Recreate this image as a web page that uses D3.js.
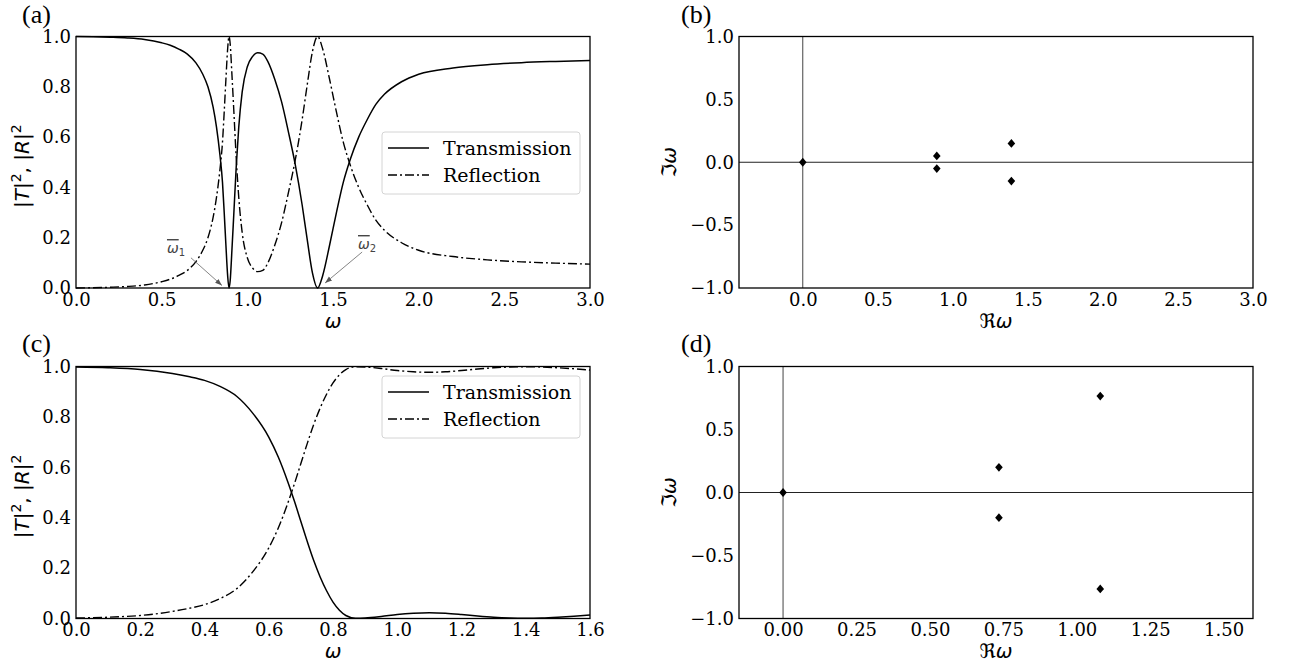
<!DOCTYPE html>
<html>
<head>
<meta charset="utf-8">
<script src="https://cdn.jsdelivr.net/npm/d3@7"></script>
<style>
  body { margin: 0; background: #fff; }
  svg { display: block; }
</style>
</head>
<body>
<div id="fig"></div>
<script>
/* Panel (a): transmission / reflection vs omega */
var omegaA = [0, 0.1, 0.2, 0.3, 0.4, 0.5, 0.55, 0.6, 0.65, 0.7, 0.74, 0.77, 0.8, 0.82, 0.84,
  0.855, 0.865, 0.875, 0.885, 0.893, 0.9, 0.91, 0.92, 0.935, 0.95, 0.97, 1.0, 1.03, 1.06, 1.09,
  1.12, 1.16, 1.2, 1.24, 1.28, 1.32, 1.35, 1.38, 1.41, 1.44, 1.48, 1.52, 1.56, 1.6, 1.65,
  1.7, 1.75, 1.8, 1.9, 2.0, 2.2, 2.4, 2.6, 2.8, 3.0];
var transA = [1.000, 0.999, 0.997, 0.994, 0.988, 0.975, 0.965, 0.950, 0.930, 0.895, 0.850, 0.800, 0.720, 0.640, 0.530,
  0.420, 0.300, 0.170, 0.050, 0.000, 0.030, 0.150, 0.280, 0.480, 0.640, 0.780, 0.880, 0.920, 0.935, 0.930,
  0.900, 0.830, 0.740, 0.620, 0.490, 0.330, 0.190, 0.060, 0.000, 0.050, 0.170, 0.300, 0.420, 0.510, 0.600,
  0.670, 0.730, 0.770, 0.820, 0.850, 0.875, 0.888, 0.896, 0.901, 0.905];
var reflA = [0.000, 0.001, 0.003, 0.006, 0.012, 0.025, 0.035, 0.050, 0.070, 0.105, 0.150, 0.200, 0.280, 0.360, 0.470,
  0.580, 0.700, 0.830, 0.950, 1.000, 0.970, 0.850, 0.720, 0.520, 0.360, 0.220, 0.120, 0.080, 0.065, 0.070,
  0.100, 0.170, 0.260, 0.380, 0.510, 0.670, 0.810, 0.940, 1.000, 0.950, 0.830, 0.700, 0.580, 0.490, 0.400,
  0.330, 0.270, 0.230, 0.180, 0.150, 0.125, 0.112, 0.104, 0.099, 0.095];

/* Panel (c) */
var omegaC = [0, 0.1, 0.2, 0.3, 0.35, 0.4, 0.45, 0.5, 0.55, 0.6, 0.63, 0.66, 0.68, 0.7, 0.72,
  0.74, 0.76, 0.78, 0.8, 0.82, 0.84, 0.87, 0.9, 0.95, 1.0, 1.05, 1.1, 1.15, 1.2, 1.25,
  1.3, 1.35, 1.4, 1.45, 1.5, 1.55, 1.6];
var transC = [0.998, 0.995, 0.988, 0.972, 0.960, 0.945, 0.920, 0.882, 0.815, 0.720, 0.640, 0.540, 0.465, 0.385, 0.305,
  0.230, 0.165, 0.110, 0.065, 0.033, 0.012, 0.001, 0.002, 0.008, 0.016, 0.021, 0.023, 0.021, 0.016, 0.010,
  0.005, 0.002, 0.001, 0.002, 0.005, 0.009, 0.014];
var reflC = [0.002, 0.005, 0.012, 0.028, 0.040, 0.055, 0.080, 0.118, 0.185, 0.280, 0.360, 0.460, 0.535, 0.615, 0.695,
  0.770, 0.835, 0.890, 0.935, 0.967, 0.988, 0.999, 0.998, 0.992, 0.984, 0.979, 0.977, 0.979, 0.984, 0.990,
  0.995, 0.998, 0.999, 0.998, 0.995, 0.991, 0.986];

/* Panels (b), (d): poles in the complex plane */
var polesBRe = [0, 0.893, 0.893, 1.39, 1.39];
var polesBIm = [0, 0.05, -0.05, 0.15, -0.15];
var polesDRe = [0, 0.735, 0.735, 1.08, 1.08];
var polesDIm = [0, 0.2, -0.2, 0.765, -0.765];

/* Tick values */
var ticksXA = [0, 0.5, 1.0, 1.5, 2.0, 2.5, 3.0];
var ticksXC = [0, 0.2, 0.4, 0.6, 0.8, 1.0, 1.2, 1.4, 1.6];
var ticksXB = [0, 0.5, 1.0, 1.5, 2.0, 2.5, 3.0];
var ticksXD = [0, 0.25, 0.5, 0.75, 1.0, 1.25, 1.5];
var ticksYTR = [0, 0.2, 0.4, 0.6, 0.8, 1.0];
var ticksYIm = [-1.0, -0.5, 0, 0.5, 1.0];

var legendLabels = ["Transmission", "Reflection"];
var panelLabels = ["(a)", "(b)", "(c)", "(d)"];
var annotSub = ["1", "2"];
var annotTextPos = [[0.531, 0.139], [1.646, 0.155]];
var annotFrom = [[0.671, 0.12], [1.67, 0.143]];
var annotTo = [[0.852, 0.01], [1.454, 0.02]];

var W = 1291, H = 667;
var serif = "DejaVu Serif", math = "DejaVu Sans";
var dashDot = "9,3,2,3";

var svg = d3.select("#fig").append("svg")
  .attr("width", W)
  .attr("height", H);

var defs = svg.append("defs");
defs.append("marker")
  .attr("id", "arrowhead")
  .attr("viewBox", "0 0 10 10")
  .attr("refX", 10).attr("refY", 5)
  .attr("markerWidth", 7).attr("markerHeight", 7)
  .attr("markerUnits", "userSpaceOnUse")
  .attr("orient", "auto")
  .append("path")
  .attr("d", "M0,1.5 L10,5 L0,8.5 Z")
  .attr("fill", "#555");

function makePanel(left, right, top, bottom, xDomain, yDomain) {
  return {
    x: d3.scaleLinear().domain(xDomain).range([left, right]),
    y: d3.scaleLinear().domain(yDomain).range([bottom, top]),
    left: left, right: right, top: top, bottom: bottom
  };
}

var pA = makePanel(76, 590, 36.5, 288, [0, 3], [0, 1]);
var pB = makePanel(739, 1253, 36.5, 288, [-0.425, 3], [-1, 1]);
var pC = makePanel(76, 590, 366.5, 618.5, [0, 1.6], [0, 1]);
var pD = makePanel(739, 1253, 366.5, 618.5, [-0.15, 1.6], [-1, 1]);

function drawAxes(p, xTicks, yTicks, xFmt, yFmt) {
  var gx = svg.append("g")
    .attr("transform", `translate(0,${p.bottom})`)
    .call(d3.axisBottom(p.x).tickValues(xTicks).tickFormat(d3.format(xFmt)).tickSize(0).tickPadding(5));
  var gy = svg.append("g")
    .attr("transform", `translate(${p.left},0)`)
    .call(d3.axisLeft(p.y).tickValues(yTicks).tickFormat(d3.format(yFmt)).tickSize(0).tickPadding(5));
  [gx, gy].forEach(function(g) {
    g.select(".domain").remove();
    g.attr("font-family", serif).attr("font-size", 18);
    g.selectAll("text").attr("fill", "#000");
  });
}

function drawFrame(p) {
  svg.append("rect")
    .attr("x", p.left).attr("y", p.top)
    .attr("width", p.right - p.left).attr("height", p.bottom - p.top)
    .attr("fill", "none")
    .attr("stroke", "#000")
    .attr("stroke-width", 1.3);
}

function drawCurves(p, xs, ts, rs) {
  var line = d3.line()
    .x(d => p.x(d[0]))
    .y(d => p.y(d[1]))
    .curve(d3.curveMonotoneX);
  svg.append("path")
    .attr("d", line(d3.zip(xs, rs)))
    .attr("fill", "none").attr("stroke", "#000")
    .attr("stroke-width", 1.4)
    .attr("stroke-dasharray", dashDot);
  svg.append("path")
    .attr("d", line(d3.zip(xs, ts)))
    .attr("fill", "none").attr("stroke", "#000")
    .attr("stroke-width", 1.5);
}

function drawLegend(p, offsetTop) {
  var bw = 198, bh = 62;
  var g = svg.append("g")
    .attr("transform", `translate(${p.right - 10 - bw},${p.top + offsetTop})`);
  g.append("rect")
    .attr("width", bw).attr("height", bh).attr("rx", 3)
    .attr("fill", "#fff").attr("fill-opacity", 0.8)
    .attr("stroke", "#d4d4d4").attr("stroke-width", 1);
  legendLabels.forEach(function(lbl, i) {
    var yy = 16 + 27 * i;
    g.append("line")
      .attr("x1", 6).attr("x2", 47).attr("y1", yy).attr("y2", yy)
      .attr("stroke", "#000").attr("stroke-width", 1.5)
      .attr("stroke-dasharray", i === 1 ? dashDot : null);
    g.append("text")
      .attr("x", 61).attr("y", yy + 6.5)
      .attr("font-family", serif).attr("font-size", 19)
      .text(lbl);
  });
}

function yLabelTR(p) {
  var t = svg.append("text")
    .attr("transform", `translate(29,${(p.top + p.bottom) / 2 + 4}) rotate(-90)`)
    .attr("text-anchor", "middle")
    .attr("font-family", math).attr("font-size", 20);
  t.append("tspan").text("|");
  t.append("tspan").attr("font-style", "italic").text("T");
  t.append("tspan").text("|");
  t.append("tspan").attr("dy", -8).attr("font-size", 14).text("2");
  t.append("tspan").attr("dy", 8).text(", |");
  t.append("tspan").attr("font-style", "italic").text("R");
  t.append("tspan").text("|");
  t.append("tspan").attr("dy", -8).attr("font-size", 14).text("2");
}

function xLabel(p, prefix) {
  var t = svg.append("text")
    .attr("x", (p.left + p.right) / 2).attr("y", p.bottom + 39.5)
    .attr("text-anchor", "middle")
    .attr("font-family", math).attr("font-size", 20);
  if (prefix) t.append("tspan").text(prefix);
  t.append("tspan").attr("font-style", "italic").text("ω");
}

function yLabelIm(p) {
  var t = svg.append("text")
    .attr("transform", `translate(676,${(p.top + p.bottom) / 2}) rotate(-90)`)
    .attr("text-anchor", "middle")
    .attr("font-family", math).attr("font-size", 20);
  t.append("tspan").text("ℑ");
  t.append("tspan").attr("font-style", "italic").text("ω");
}

var diamond = {
  draw: function(ctx, size) {
    var h = Math.sqrt(size) / 2;
    ctx.moveTo(0, -h * 1.1);
    ctx.lineTo(h * 0.95, 0);
    ctx.lineTo(0, h * 1.1);
    ctx.lineTo(-h * 0.95, 0);
    ctx.closePath();
  }
};

function drawPoles(p, re, im) {
  svg.append("line")
    .attr("x1", p.left).attr("x2", p.right)
    .attr("y1", p.y(0)).attr("y2", p.y(0))
    .attr("stroke", "#222").attr("stroke-width", 1.1);
  svg.append("line")
    .attr("x1", p.x(0)).attr("x2", p.x(0))
    .attr("y1", p.top).attr("y2", p.bottom)
    .attr("stroke", "#444").attr("stroke-width", 1);
  svg.append("g").selectAll("path")
    .data(d3.zip(re, im)).enter()
    .append("path")
    .attr("transform", d => `translate(${p.x(d[0])},${p.y(d[1])})`)
    .attr("d", d3.symbol(diamond, 64))
    .attr("fill", "#000");
}

/* (a) */
drawCurves(pA, omegaA, transA, reflA);
drawFrame(pA);
drawAxes(pA, ticksXA, ticksYTR, ".1f", ".1f");
drawLegend(pA, 95.5);
yLabelTR(pA);
xLabel(pA, null);

annotSub.forEach(function(sub, i) {
  svg.append("line")
    .attr("x1", pA.x(annotFrom[i][0])).attr("y1", pA.y(annotFrom[i][1]))
    .attr("x2", pA.x(annotTo[i][0])).attr("y2", pA.y(annotTo[i][1]))
    .attr("stroke", "#666").attr("stroke-width", 0.8)
    .attr("marker-end", "url(#arrowhead)");
  var t = svg.append("text")
    .attr("x", pA.x(annotTextPos[i][0])).attr("y", pA.y(annotTextPos[i][1]))
    .attr("font-family", math).attr("font-size", 14).attr("fill", "#444");
  t.append("tspan").attr("font-style", "italic").style("text-decoration", "overline").text("ω");
  t.append("tspan").attr("dy", 3).attr("font-size", 10).text(sub);
});

/* (b) */
drawPoles(pB, polesBRe, polesBIm);
drawFrame(pB);
drawAxes(pB, ticksXB, ticksYIm, ".1f", ".1f");
yLabelIm(pB);
xLabel(pB, "ℜ");

/* (c) */
drawCurves(pC, omegaC, transC, reflC);
drawFrame(pC);
drawAxes(pC, ticksXC, ticksYTR, ".1f", ".1f");
drawLegend(pC, 9.5);
yLabelTR(pC);
xLabel(pC, null);

/* (d) */
drawPoles(pD, polesDRe, polesDIm);
drawFrame(pD);
drawAxes(pD, ticksXD, ticksYIm, ".2f", ".1f");
yLabelIm(pD);
xLabel(pD, "ℜ");

/* panel letters */
var letterPos = [[22, 23], [681, 23], [22, 352], [681, 352]];
panelLabels.forEach(function(lbl, i) {
  svg.append("text")
    .attr("x", letterPos[i][0]).attr("y", letterPos[i][1])
    .attr("font-family", "Liberation Serif").attr("font-size", 26)
    .text(lbl);
});
</script>
</body>
</html>
